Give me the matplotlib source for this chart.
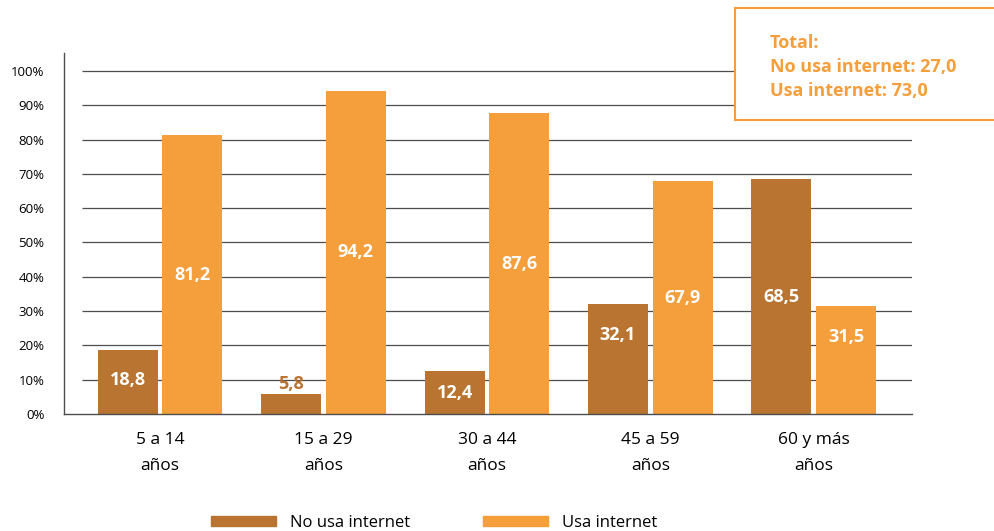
import matplotlib.pyplot as plt
import matplotlib.patches as mpatches
import numpy as np

plt.rcParams['font.family'] = ['Open Sans', 'DejaVu Sans']

categorias = ['5 a 14\naños', '15 a 29\naños', '30 a 44\naños', '45 a 59\naños', '60 y más\naños']
no_usa = [18.8, 5.8, 12.4, 32.1, 68.5]
usa = [81.2, 94.2, 87.6, 67.9, 31.5]
total_no_usa = 27.0
total_usa = 73.0

c_no = '#B87430'
c_si = '#F59E3C'

fig = plt.figure(figsize=(9.94, 5.31), dpi=100)
ax = fig.add_axes([0.0644, 0.2203, 0.853, 0.6797])

x = np.arange(len(categorias))
w = 0.367
off = 0.198

for y in range(10, 101, 10):
    ax.hlines(y, -0.477, 4.6, color='#4d4d4d', lw=0.9, zorder=1)

ax.bar(x - off, no_usa, w, color=c_no, zorder=2)
ax.bar(x + off, usa, w, color=c_si, zorder=2)


def fmt(v):
    return f'{v:.1f}'.replace('.', ',')


def pos(v):
    if v < 40:
        return max(v / 2, v - 9)
    return v / 2


for xi, v in zip(x, no_usa):
    if v < 8:
        ax.text(xi - off, v + 3, fmt(v), ha='center', va='center', color=c_no,
                fontsize=13, fontweight='bold', zorder=3)
    else:
        ax.text(xi - off, pos(v), fmt(v), ha='center', va='center', color='white',
                fontsize=13, fontweight='bold', zorder=3)
for xi, v in zip(x, usa):
    ax.text(xi + off, pos(v), fmt(v), ha='center', va='center', color='white',
            fontsize=13, fontweight='bold', zorder=3)

ax.set_xlim(-0.587, 4.6)
ax.set_ylim(0, 105.2)
ax.set_yticks(range(0, 101, 10))
ax.set_yticklabels([f'{t}%' for t in range(0, 101, 10)], fontsize=9.5)
ax.set_xticks(x)
ax.set_xticklabels(categorias, fontsize=12.5, linespacing=1.85)
ax.tick_params(axis='both', length=0)
ax.tick_params(axis='y', pad=14)
ax.tick_params(axis='x', pad=13)
for s in ['top', 'right']:
    ax.spines[s].set_visible(False)
ax.spines['left'].set_color('#4d4d4d')
ax.spines['bottom'].set_color('#4d4d4d')
ax.spines['left'].set_linewidth(1)
ax.spines['bottom'].set_linewidth(1)

# caja del total
caja = mpatches.Rectangle((735 / 994, 1 - 120 / 531), 0.3, 112 / 531,
                          transform=fig.transFigure, facecolor='white',
                          edgecolor=c_si, lw=1.5, zorder=5)
fig.patches.append(caja)
fig.text(770 / 994, 1 - 67 / 531,
         f'Total:\nNo usa internet: {fmt(total_no_usa)}\nUsa internet: {fmt(total_usa)}',
         color=c_si, fontsize=13, fontweight='bold', va='center', ha='left',
         linespacing=1.45, zorder=6)

# leyenda
h1 = mpatches.Patch(color=c_no, label='No usa internet')
h2 = mpatches.Patch(color=c_si, label='Usa internet')
fig.legend(handles=[h1, h2], loc='center', bbox_to_anchor=(0.437, 1 - 523 / 531),
           ncol=2, frameon=False, fontsize=12, handlelength=3.9, handleheight=0.5,
           columnspacing=4.4, handletextpad=0.84)

plt.savefig('out.png', dpi=100)
